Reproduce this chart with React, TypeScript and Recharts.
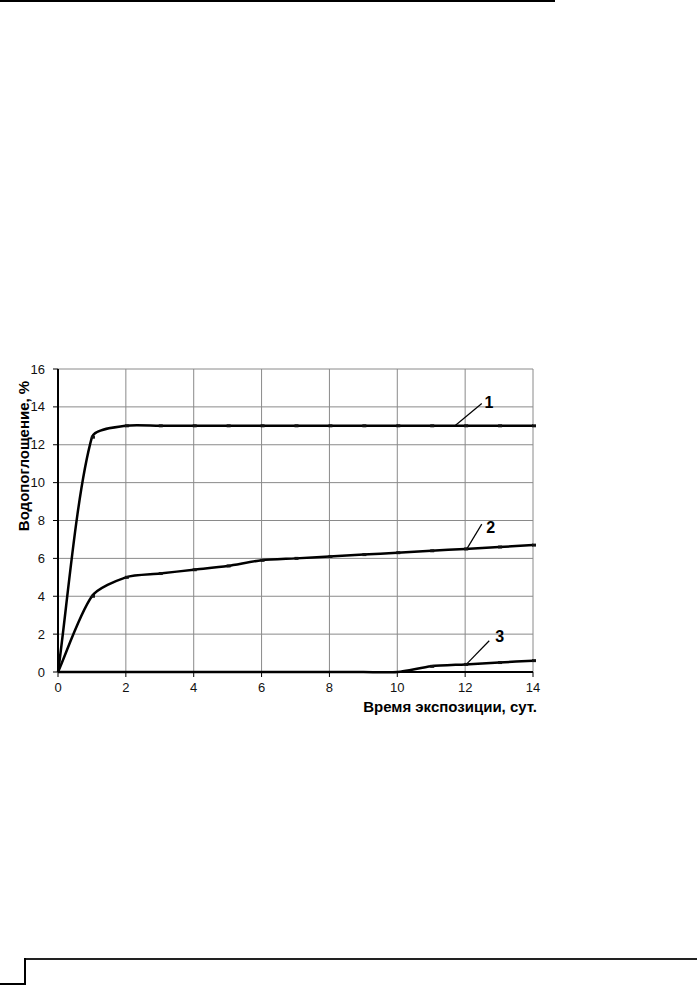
import React from "react";
import {
  LineChart,
  Line,
  XAxis,
  YAxis,
  CartesianGrid,
  ReferenceLine,
  ReferenceDot
} from "recharts";

// время экспозиции, сут.
const days = [0, 1, 2, 3, 4, 5, 6, 7, 8, 9, 10, 11, 12, 13, 14];
// водопоглощение, %
const curve1 = [0, 12.4, 13, 13, 13, 13, 13, 13, 13, 13, 13, 13, 13, 13, 13];
const curve2 = [0, 4.0, 5.0, 5.2, 5.4, 5.6, 5.9, 6.0, 6.1, 6.2, 6.3, 6.4, 6.5, 6.6, 6.7];
const curve3 = [0, 0, 0, 0, 0, 0, 0, 0, 0, 0, 0, 0.3, 0.4, 0.5, 0.6];

const xTicks = [0, 2, 4, 6, 8, 10, 12, 14];
const yTicks = [0, 2, 4, 6, 8, 10, 12, 14, 16];

// выноски с номерами кривых
const markNames = ["1", "2", "3"];
const markFromX = [11.7, 12.05, 12.04];
const markFromY = [13.0, 6.5, 0.42];
const markToX = [12.49, 12.49, 12.71];
const markToY = [14.18, 7.81, 1.65];
const markTextX = [12.7, 12.75, 13.02];
const markTextY = [14.25, 7.65, 1.85];

const data = days.map((d, i) => ({
  day: d,
  c1: curve1[i],
  c2: curve2[i],
  c3: curve3[i]
}));

const font = "'Liberation Sans', Arial, sans-serif";

// сглаживание "как в Excel": касательные по соседним точкам,
// длина управляющих отрезков пропорциональна длине сегмента
const smoothCurve = (ctx: any) => {
  let pts: number[][] = [];
  const k = 0.25;
  const unit = (dx: number, dy: number) => {
    const l = Math.hypot(dx, dy) || 1;
    return [dx / l, dy / l];
  };
  return {
    areaStart() {},
    areaEnd() {},
    lineStart() {
      pts = [];
    },
    point(x: number, y: number) {
      pts.push([+x, +y]);
    },
    lineEnd() {
      const n = pts.length;
      if (!n) return;
      ctx.moveTo(pts[0][0], pts[0][1]);
      if (n === 1) return;
      const tan = pts.map((p, i) => {
        const a = pts[Math.max(0, i - 1)];
        const b = pts[Math.min(n - 1, i + 1)];
        return unit(b[0] - a[0], b[1] - a[1]);
      });
      for (let i = 0; i < n - 1; i++) {
        const p = pts[i];
        const q = pts[i + 1];
        const len = Math.hypot(q[0] - p[0], q[1] - p[1]) * k;
        ctx.bezierCurveTo(
          p[0] + tan[i][0] * len,
          p[1] + tan[i][1] * len,
          q[0] - tan[i + 1][0] * len,
          q[1] - tan[i + 1][1] * len,
          q[0],
          q[1]
        );
      }
    }
  };
};

const Tick = (props: any) => {
  const { cx, cy, value } = props;
  if (cx == null || cy == null || value === 0) return null;
  return <rect x={cx - 1} y={cy - 1.5} width={4} height={3} fill="#111" />;
};

export default function App() {
  return (
    <div
      style={{
        position: "absolute",
        left: 0,
        top: 0,
        width: 697,
        height: 986,
        background: "#fff",
        overflow: "hidden"
      }}
    >
      <div style={{ position: "absolute", left: 0, top: 0, width: 555, height: 2, background: "#000" }} />
      <div style={{ position: "absolute", left: 24, top: 958, width: 673, height: 2, background: "#222" }} />
      <div style={{ position: "absolute", left: 24, top: 958, width: 2, height: 27, background: "#000" }} />
      <div style={{ position: "absolute", left: 0, top: 983, width: 26, height: 2, background: "#000" }} />

      <div style={{ position: "absolute", left: 0, top: 340 }}>
        <LineChart
          width={560}
          height={380}
          data={data}
          margin={{ top: 29, right: 27, left: 0, bottom: 18 }}
          style={{ fontFamily: font }}
        >
          <CartesianGrid stroke="#8a8a8a" strokeWidth={1} />
          <XAxis
            dataKey="day"
            type="number"
            domain={[0, 14]}
            ticks={xTicks}
            interval={0}
            height={30}
            tickSize={5}
            tickMargin={6}
            axisLine={{ stroke: "#000", strokeWidth: 2 }}
            tickLine={{ stroke: "#000" }}
            tick={{ fill: "#111", fontSize: 13, fontFamily: font }}
            label={{
              content: ({ viewBox }: any) => (
                <text
                  x={viewBox.x + viewBox.width + 4}
                  y={viewBox.y + 40}
                  textAnchor="end"
                  fontSize={15}
                  fontWeight="bold"
                  fontFamily={font}
                  fill="#000"
                >
                  Время экспозиции, сут.
                </text>
              )
            }}
          />
          <YAxis
            type="number"
            domain={[0, 16]}
            ticks={yTicks}
            interval={0}
            width={58}
            tickSize={5}
            tickMargin={8}
            axisLine={{ stroke: "#000", strokeWidth: 2 }}
            tickLine={{ stroke: "#000" }}
            tick={{ fill: "#111", fontSize: 13, fontFamily: font }}
            label={{
              content: () => (
                <text
                  x={23}
                  y={116}
                  transform="rotate(-90 23 116)"
                  textAnchor="middle"
                  dominantBaseline="central"
                  fontSize={15}
                  fontWeight="bold"
                  fontFamily={font}
                  fill="#000"
                >
                  Водопоглощение, %
                </text>
              )
            }}
          />
          <Line
            type={smoothCurve as any}
            dataKey="c1"
            stroke="#000"
            strokeWidth={2.5}
            dot={<Tick />}
            activeDot={false}
            isAnimationActive={false}
          />
          <Line
            type={smoothCurve as any}
            dataKey="c2"
            stroke="#000"
            strokeWidth={2.5}
            dot={<Tick />}
            activeDot={false}
            isAnimationActive={false}
          />
          <Line
            type={smoothCurve as any}
            dataKey="c3"
            stroke="#000"
            strokeWidth={2.5}
            dot={<Tick />}
            activeDot={false}
            isAnimationActive={false}
          />
          {markNames.map((name, i) => (
            <ReferenceLine
              key={"l" + name}
              segment={[
                { x: markFromX[i], y: markFromY[i] },
                { x: markToX[i], y: markToY[i] }
              ]}
              stroke="#000"
              strokeWidth={1.2}
            />
          ))}
          {markNames.map((name, i) => (
            <ReferenceDot
              key={"t" + name}
              x={markTextX[i]}
              y={markTextY[i]}
              r={0}
              fill="none"
              stroke="none"
              label={{
                content: ({ viewBox }: any) => (
                  <text
                    x={viewBox.x + viewBox.width / 2}
                    y={viewBox.y + viewBox.height / 2}
                    textAnchor="middle"
                    dominantBaseline="central"
                    fontSize={16}
                    fontWeight="bold"
                    fontFamily={font}
                    fill="#000"
                  >
                    {name}
                  </text>
                )
              }}
            />
          ))}
        </LineChart>
      </div>
    </div>
  );
}
